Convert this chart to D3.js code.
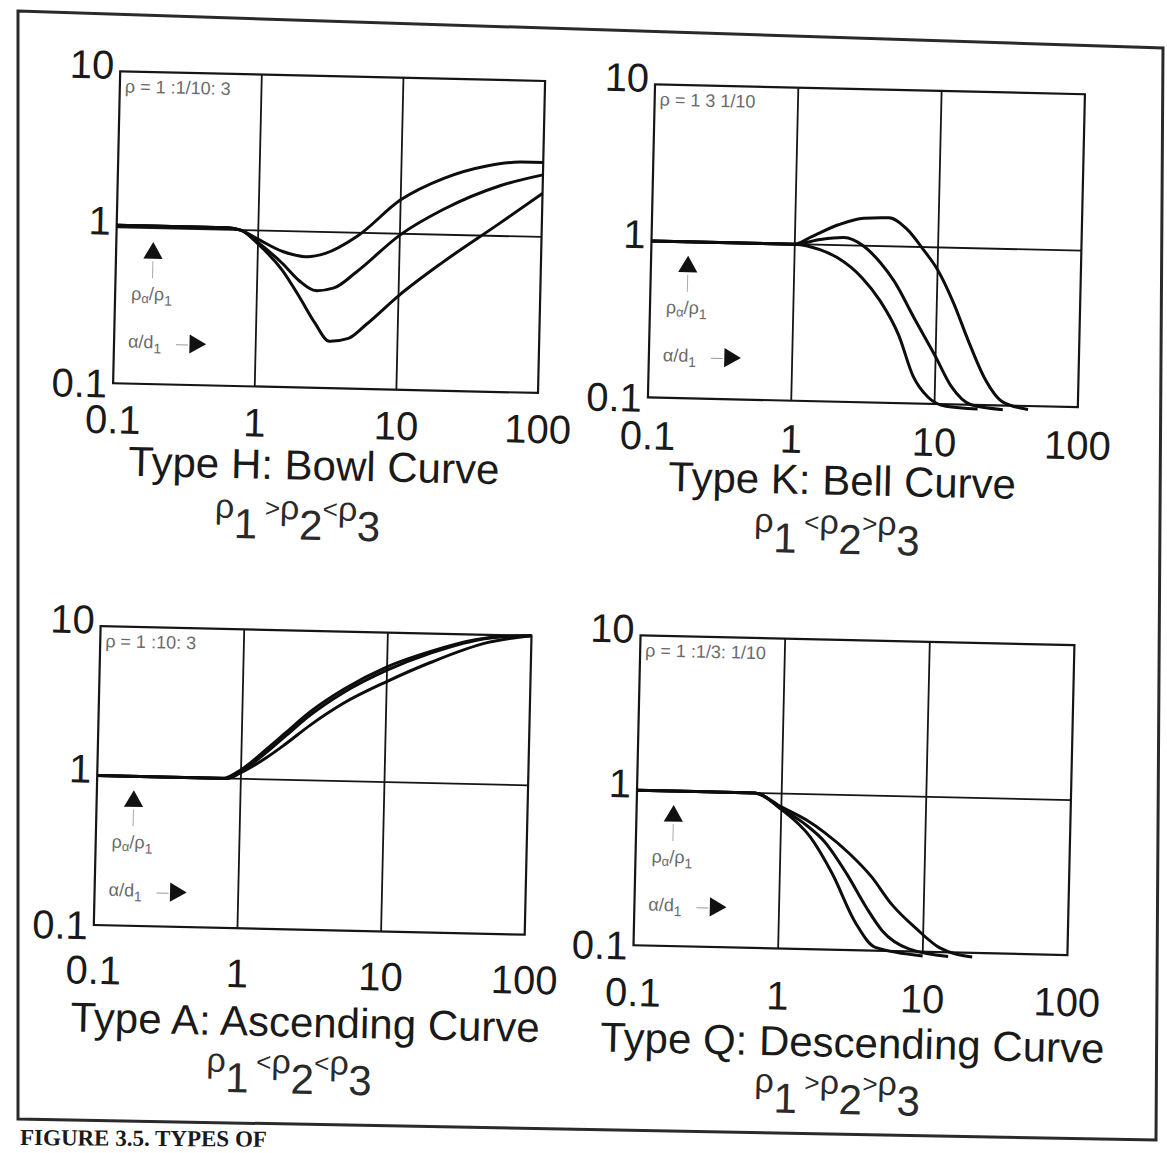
<!DOCTYPE html>
<html>
<head>
<meta charset="utf-8">
<style>
  body { margin: 0; background: #fff; }
  svg text { font-family: "Liberation Sans", Arial, sans-serif; fill: #1a1a1a; }
  .box { fill: none; stroke: #151515; stroke-width: 2.2; }
  .grid { stroke: #151515; stroke-width: 1.8; }
  .curve { fill: none; stroke: #0d0d0d; stroke-width: 3; stroke-linejoin: round; }
  .inset { fill: #6a6a6a; font-size: 18px; }
  .frame { fill: none; stroke: #2a2a2a; stroke-width: 3; }
</style>
</head>
<body>
<div id="figure"></div>
<script src="https://cdn.jsdelivr.net/npm/d3@7"></script>
<script>
const W = 1167, H = 1153;

//////////////////// data ////////////////////
const xTicks = [0.1, 1, 10, 100];
const xTickLabels = ['0.1', '1', '10', '100'];
const yTicks = [0.1, 1, 10];
const yTickLabels = ['0.1', '1', '10'];
const gridX = [1, 10];
const gridY = [1];

const titles = ['Type H: Bowl Curve', 'Type K: Bell Curve', 'Type A: Ascending Curve', 'Type Q: Descending Curve'];
const ratioNotes = ['ρ = 1 :1/10: 3', 'ρ = 1 3 1/10', 'ρ = 1 :10: 3', 'ρ = 1 :1/3: 1/10'];
const relations = [['>', '<'], ['<', '>'], ['<', '<'], ['>', '>']];

// [a/d1, ρa/ρ1]
const curvesH = [
    [[0.1,1.03],[0.6,1.03],[0.75,1.0],[1,0.88],[1.5,0.74],[2.2,0.69],[3,0.73],[5,0.95],[10,1.65],[20,2.3],[40,2.8],[70,3.0],[100,3.0]],
    [[0.1,1.03],[0.6,1.03],[0.75,1.0],[1,0.84],[1.5,0.62],[2,0.48],[2.6,0.42],[3.5,0.44],[5,0.56],[10,0.98],[20,1.45],[50,2.1],[100,2.5]],
    [[0.1,1.03],[0.6,1.03],[0.75,1.0],[1,0.82],[1.5,0.56],[2,0.38],[2.6,0.26],[3.3,0.2],[4.5,0.21],[6,0.26],[10,0.4],[20,0.66],[50,1.2],[100,1.9]]
];
const curvesK = [
    [[0.1,1],[1,1],[1.3,1.12],[2,1.35],[3,1.5],[4.5,1.52],[6,1.3],[8,0.95],[10,0.72],[13,0.45],[17,0.25],[22,0.15],[30,0.105],[45,0.095]],
    [[0.1,1],[1,1],[1.5,1.08],[2.2,1.12],[3,1.0],[4,0.78],[5,0.6],[7,0.35],[10,0.2],[13,0.13],[18,0.1],[30,0.094]],
    [[0.1,1],[1,1],[1.5,0.93],[2,0.83],[3,0.62],[4,0.45],[5.5,0.27],[7,0.15],[9,0.11],[12,0.097],[20,0.094]]
];
const curvesA = [
    [[0.1,1],[0.75,1],[1,1.15],[1.5,1.6],[2,2.05],[3,2.9],[5,4.1],[10,5.9],[20,7.6],[40,9.2],[60,9.8],[100,10]],
    [[0.1,1],[0.8,1],[1,1.12],[1.5,1.52],[2,1.95],[3,2.75],[5,3.9],[10,5.6],[20,7.4],[50,9.5],[100,10]],
    [[0.1,1],[0.8,1],[1,1.1],[1.5,1.4],[2,1.72],[3,2.35],[5,3.3],[10,4.7],[20,6.4],[50,8.9],[100,10]]
];
const curvesQ = [
    [[0.1,1],[0.65,1],[1,0.82],[1.5,0.68],[2,0.57],[3,0.42],[4.3,0.3],[6,0.2],[9,0.14],[13,0.107],[22,0.094]],
    [[0.1,1],[0.65,1],[1,0.8],[1.5,0.63],[2,0.5],[2.9,0.31],[4,0.19],[5.2,0.135],[8,0.104],[15,0.094]],
    [[0.1,1],[0.65,1],[1,0.79],[1.6,0.53],[2.3,0.31],[3.4,0.15],[4.7,0.105],[10,0.094]]
];
const allCurves = [curvesH, curvesK, curvesA, curvesQ];

//////////////////// layout ////////////////////
// box, then offsets below the box for tick labels, title, formula
const layout = [
    {x0: 109, x1: 534,  y0: 82,  y1: 394, xlab: 36, title: 77, titleDx: -10, formula: 130, formulaDx: -25},
    {x0: 644, x1: 1074, y0: 83,  y1: 396, xlab: 38, title: 78, titleDx: -19, formula: 130, formulaDx: -23},
    {x0: 102, x1: 533,  y0: 637, y1: 936, xlab: 45, title: 92, titleDx: -2,  formula: 142, formulaDx: -17},
    {x0: 642, x1: 1076, y0: 634, y1: 944, xlab: 47, title: 92, titleDx: 4,   formula: 142, formulaDx: -10}
];

const svg = d3.select('#figure').append('svg')
    .attr('width', W)
    .attr('height', H)
    .style('background', '#fff');

// cadre
svg.append('path')
    .classed('frame', true)
    .attr('d', 'M 18 11 L 1163 48 L 1156 1140 L 18 1119 Z');

svg.append('text')
    .attr('transform', 'translate(20, 1145) rotate(0.4)')
    .style('font-family', '"Liberation Serif", "Times New Roman", serif')
    .style('font-weight', 'bold')
    .attr('font-size', 23)
    .text('FIGURE 3.5. TYPES OF');

const page = svg.append('g').attr('transform', 'rotate(1.3, 584, 570)');

allCurves.forEach((curves, idx) => drawPanel(idx, curves));

function drawPanel(idx, curves) {
    const L = layout[idx];
    const g = page.append('g').attr('id', 'panel' + idx);

    const x = d3.scaleLog().domain([0.1, 100]).range([L.x0, L.x1]);
    const y = d3.scaleLog().domain([0.1, 10]).range([L.y1, L.y0]);
    const yMid = y(1);

    // note en haut a gauche
    g.append('text')
        .classed('inset', true)
        .attr('font-size', 20)
        .attr('x', L.x0 + 5)
        .attr('y', L.y0 + 21)
        .text(ratioNotes[idx]);

    // fleche verticale
    g.append('path')
        .attr('d', d3.symbol(d3.symbolTriangle, 160)())
        .attr('transform', `translate(${L.x0 + 37}, ${yMid + 25})`)
        .attr('fill', '#111');
    g.append('line')
        .attr('x1', L.x0 + 37).attr('x2', L.x0 + 37)
        .attr('y1', yMid + 33).attr('y2', yMid + 50)
        .attr('stroke', '#aaa').attr('stroke-width', 1);

    const rl = g.append('text').classed('inset', true)
        .attr('x', L.x0 + 16).attr('y', yMid + 72);
    rl.append('tspan').text('ρ');
    rl.append('tspan').attr('font-size', 13).attr('dy', 3).text('α');
    rl.append('tspan').attr('dy', -3).text('/ρ');
    rl.append('tspan').attr('font-size', 14).attr('dy', 5).text('1');

    const al = g.append('text').classed('inset', true)
        .attr('x', L.x0 + 14).attr('y', yMid + 120);
    al.append('tspan').text('α/d');
    al.append('tspan').attr('font-size', 14).attr('dy', 5).text('1');
    g.append('line')
        .attr('x1', L.x0 + 62).attr('x2', L.x0 + 74)
        .attr('y1', yMid + 116).attr('y2', yMid + 116)
        .attr('stroke', '#999').attr('stroke-width', 1);
    g.append('path')
        .attr('d', d3.symbol(d3.symbolTriangle, 160)())
        .attr('transform', `translate(${L.x0 + 81}, ${yMid + 115}) rotate(90)`)
        .attr('fill', '#111');

    // grille
    g.selectAll('.gx').data(gridX).join('line')
        .classed('grid', true)
        .attr('x1', d => x(d)).attr('x2', d => x(d))
        .attr('y1', L.y0).attr('y2', L.y1);
    g.selectAll('.gy').data(gridY).join('line')
        .classed('grid', true)
        .attr('x1', L.x0).attr('x2', L.x1)
        .attr('y1', d => y(d)).attr('y2', d => y(d));

    g.append('rect')
        .classed('box', true)
        .attr('x', L.x0).attr('y', L.y0)
        .attr('width', L.x1 - L.x0).attr('height', L.y1 - L.y0);

    // courbes
    const line = d3.line()
        .x(d => x(d[0]))
        .y(d => y(d[1]))
        .curve(d3.curveMonotoneX);
    g.selectAll('.curve').data(curves).join('path')
        .classed('curve', true)
        .attr('d', line);

    // axes
    const gx = g.append('g')
        .attr('transform', `translate(0, ${L.y1 + L.xlab + 14})`)
        .call(d3.axisBottom(x).tickValues(xTicks)
            .tickFormat(d => xTickLabels[xTicks.indexOf(d)])
            .tickSize(0).tickPadding(0));
    gx.select('.domain').remove();
    gx.attr('font-family', null).attr('font-size', null);
    gx.selectAll('text').attr('dy', null).attr('y', 0).attr('font-size', 40);

    const gy = g.append('g')
        .attr('transform', `translate(${L.x0}, 0)`)
        .call(d3.axisLeft(y).tickValues(yTicks)
            .tickFormat(d => yTickLabels[yTicks.indexOf(d)])
            .tickSize(0).tickPadding(6));
    gy.select('.domain').remove();
    gy.attr('font-family', null).attr('font-size', null);
    gy.selectAll('text').attr('dy', null)
        .attr('y', d => d === 0.1 ? 14 : 7)
        .attr('font-size', 40);

    // titre
    const cx = (L.x0 + L.x1) / 2;
    g.append('text')
        .attr('x', cx + L.titleDx)
        .attr('y', L.y1 + L.title + 15)
        .attr('text-anchor', 'middle')
        .attr('font-size', 42)
        .text(titles[idx]);

    // formule
    const rel = relations[idx];
    const f = g.append('text')
        .attr('x', cx + L.formulaDx)
        .attr('y', L.y1 + L.formula + 22)
        .attr('text-anchor', 'middle')
        .style('fill', '#2a2a2a');
    f.append('tspan').attr('font-size', 34).attr('dy', -20).text('ρ');
    f.append('tspan').attr('font-size', 42).attr('dy', 20).text('1');
    f.append('tspan').attr('font-size', 26).attr('dy', -22).text(' ' + rel[0]);
    f.append('tspan').attr('font-size', 34).attr('dy', 2).text('ρ');
    f.append('tspan').attr('font-size', 42).attr('dy', 20).text('2');
    f.append('tspan').attr('font-size', 26).attr('dy', -22).text(rel[1]);
    f.append('tspan').attr('font-size', 34).attr('dy', 2).text('ρ');
    f.append('tspan').attr('font-size', 42).attr('dy', 20).text('3');
}
</script>
</body>
</html>
